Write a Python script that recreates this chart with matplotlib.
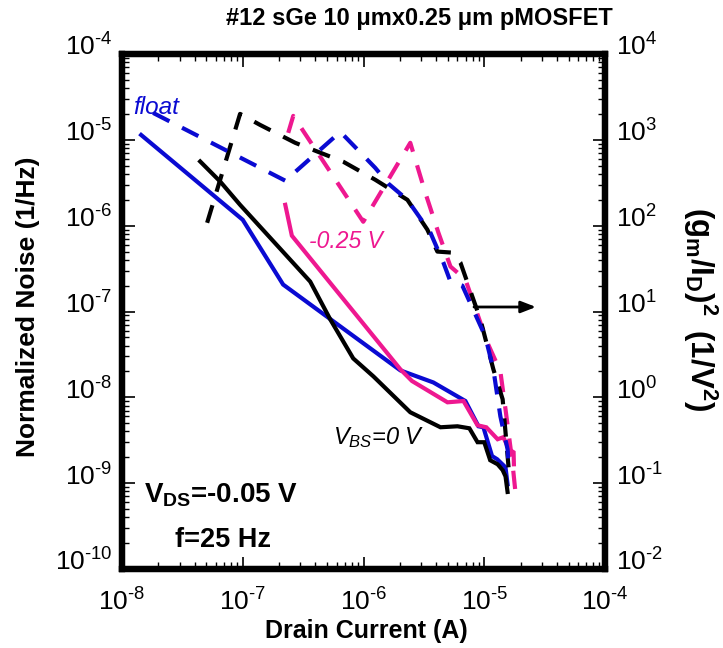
import numpy as np
import matplotlib
matplotlib.use("Agg")
import matplotlib.pyplot as plt
import matplotlib.transforms as mtransforms
from matplotlib.ticker import FixedLocator, FuncFormatter, NullFormatter

plt.rcParams['font.family'] = ['Liberation Sans', 'DejaVu Sans']
plt.rcParams['mathtext.fontset'] = 'custom'
plt.rcParams['mathtext.rm'] = 'Liberation Sans'
plt.rcParams['mathtext.it'] = 'Liberation Sans:italic'
plt.rcParams['mathtext.bf'] = 'Liberation Sans:bold'

BLUE = '#0a0ad2'
PINK = '#ee1890'

# ---- Noise (left axis), solid lines ----
id_float = [1.44e-8, 1.0e-7, 2.16e-7, 2.02e-6, 3.79e-6, 6.98e-6, 8.96e-6, 9.84e-6, 1.16e-5, 1.28e-5, 1.50e-5, 1.56e-5]
sn_float = [1.14e-5, 1.17e-6, 2.06e-7, 2.06e-8, 1.49e-8, 9.06e-9, 4.6e-9, 4.48e-9, 2.07e-9, 1.9e-9, 1.53e-9, 9.7e-10]

id_0 = [4.44e-8, 6.5e-8, 9.5e-8, 3.62e-7, 5.31e-7, 8.22e-7, 1.21e-6, 2.44e-6, 4.34e-6, 6.0e-6, 7.53e-6, 8.8e-6, 1.0e-5, 1.12e-5, 1.29e-5, 1.42e-5, 1.50e-5, 1.56e-5]
sn_0 = [5.6e-6, 3.27e-6, 1.75e-6, 2.23e-7, 8.07e-8, 2.84e-8, 1.75e-8, 6.7e-9, 4.48e-9, 4.6e-9, 4.36e-9, 3.0e-9, 3.0e-9, 1.85e-9, 1.66e-9, 1.42e-9, 1.2e-9, 7.9e-10]

id_m025 = [2.25e-7, 2.55e-7, 2.02e-6, 2.52e-6, 4.96e-6, 6.73e-6, 8.8e-6, 1.04e-5, 1.29e-5, 1.44e-5, 1.60e-5, 1.75e-5, 1.76e-5]
sn_m025 = [1.75e-6, 7.65e-7, 2.12e-8, 1.55e-8, 8.75e-9, 9.06e-9, 4.72e-9, 4.48e-9, 3.25e-9, 3.43e-9, 2.48e-9, 2.29e-9, 1.66e-9]

# ---- (gm/ID)^2 (right axis), dashed lines ----
gid_float = [1.81e-8, 2.25e-7, 6.43e-7, 1.25e-6, 1.61e-6, 2.31e-6, 3.58e-6, 4.59e-6, 5.25e-6, 6.59e-6, 1.02e-5, 1.19e-5, 1.36e-5, 1.56e-5, 1.59e-5]
g_float = [2060, 334, 1239, 472, 308, 200, 83, 37.1, 22.3, 20.0, 5.12, 2.12, 0.60, 0.248, 0.158]

gid_0 = [5.07e-8, 9.5e-8, 1.39e-7, 2.72e-7, 6.81e-7, 1.25e-6, 2.31e-6, 3.38e-6, 4.09e-6, 5.44e-6, 6.35e-6, 9.29e-6, 1.19e-5, 1.42e-5, 1.59e-5]
g_0 = [108, 2006, 1494, 923, 555, 343, 200, 89.8, 49.9, 48.5, 37.1, 8.07, 2.12, 0.95, 0.153]

gid_m025 = [2.38e-7, 2.62e-7, 9.95e-7, 2.44e-6, 3.25e-6, 4.17e-6, 5.25e-6, 6.98e-6, 1.06e-5, 1.36e-5, 1.50e-5, 1.71e-5, 1.82e-5]
g_m025 = [1206, 1901, 111, 923, 242, 83, 33.4, 23.6, 4.36, 2.0, 0.725, 0.175, 0.0745]

# axis decades
x_dec = [-8, -4]
y_dec = [-10, -4]
y2_dec = [-2, 4]

W, H = 723, 648
fig = plt.figure(figsize=(W / 100, H / 100), dpi=100)
L, R, T, B = 122, 605, 54, 569
ax = fig.add_axes([L / W, 1 - B / H, (R - L) / W, (B - T) / H])
ax2 = ax.twinx()

lw = 3.0
dash = (0, (4.4, 3.4))
ax.plot(id_float, sn_float, color=BLUE, lw=lw, solid_joinstyle='miter')
ax.plot(id_m025, sn_m025, color=PINK, lw=lw, solid_joinstyle='miter')
ax.plot(id_0, sn_0, color='black', lw=lw, solid_joinstyle='miter')

ax2.plot(gid_m025, g_m025, color=PINK, lw=lw, linestyle=dash)
ax2.plot(gid_0, g_0, color='black', lw=lw, linestyle=dash)
ax2.plot(gid_float, g_float, color=BLUE, lw=lw, linestyle=dash)

for a in (ax, ax2):
    a.set_xscale('log')
    a.set_yscale('log')
ax.set_xlim(10.0 ** x_dec[0], 10.0 ** x_dec[1])
ax.set_ylim(10.0 ** y_dec[0], 10.0 ** y_dec[1])
ax2.set_ylim(10.0 ** y2_dec[0], 10.0 ** y2_dec[1])


def sci(v, pos):
    n = int(round(np.log10(v)))
    if n < 0:
        return r'$10^{\text{-}%d}$' % (-n)
    return r'$10^{%d}$' % n


def majors(d):
    return [10.0 ** k for k in range(d[0], d[1] + 1)]


def minors(d):
    return [m * 10.0 ** k for k in range(d[0], d[1]) for m in range(2, 10)]


fmt = FuncFormatter(sci)
tfs = 19
for a in (ax, ax2):
    for s in a.spines.values():
        s.set_linewidth(4.5)
for axis, d in ((ax.xaxis, x_dec), (ax.yaxis, y_dec), (ax2.yaxis, y2_dec)):
    axis.set_major_locator(FixedLocator(majors(d)))
    axis.set_minor_locator(FixedLocator(minors(d)))
    axis.set_minor_formatter(NullFormatter())
    axis.set_major_formatter(fmt)

ax.tick_params(axis='x', which='both', direction='in', top=True, bottom=True)
ax.tick_params(axis='y', which='both', direction='in', left=True, right=False)
ax2.tick_params(axis='y', which='both', direction='in', right=True, left=False)
ax.tick_params(which='major', length=9, width=1.2, labelsize=tfs)
ax.tick_params(which='minor', length=5, width=1.0)
ax2.tick_params(which='major', length=9, width=1.2, labelsize=tfs)
ax2.tick_params(which='minor', length=5, width=1.0)
ax.tick_params(axis='x', pad=14)
ax.tick_params(axis='y', pad=7)
ax2.tick_params(axis='y', pad=8)

fig.text(366 / W, 1 - 631 / H, 'Drain Current (A)', fontsize=18, fontweight='bold',
         ha='center', va='center')
fig.text(28 / W, 1 - 307 / H, 'Normalized Noise (1/Hz)', fontsize=19, fontweight='bold',
         ha='center', va='center', rotation=90)
fig.text(700 / W, 1 - 309 / H, r'$\mathbf{(g_m/I_D)^2\;\;(1/V^2)}$', fontsize=22.5,
         ha='center', va='center', rotation=270)

fig.text(419 / W, 1 - 19 / H, '#12 sGe 10 \u03bcmx0.25 \u03bcm pMOSFET',
         fontsize=17, fontweight='bold', ha='center', va='center')


def px(xp, yp):
    return (xp - L) / (R - L), (B - yp) / (B - T)


ax.text(*px(133, 107), 'float', transform=ax.transAxes, color=BLUE, fontsize=17.5,
        fontstyle='italic', ha='left', va='center')
ax.text(*px(309, 241), '-0.25 V', transform=ax.transAxes, color=PINK, fontsize=16.5,
        fontstyle='italic', ha='left', va='center')
ax.text(*px(333, 438), r'$\mathit{V_{BS}}$=0 V', transform=ax.transAxes, color='black',
        fontsize=17, fontstyle='italic', ha='left', va='center')
ax.text(*px(144, 495), r'$\mathbf{V_{DS}}$=-0.05 V', transform=ax.transAxes,
        color='black', fontsize=20, fontweight='bold', ha='left', va='center')
ax.text(*px(175, 540), 'f=25 Hz', transform=ax.transAxes, color='black', fontsize=19.5,
        fontweight='bold', ha='left', va='center')

ax.annotate('', xy=px(536, 307), xytext=px(474, 307), xycoords='axes fraction',
            textcoords='axes fraction',
            arrowprops=dict(arrowstyle='-|>,head_length=0.9,head_width=0.35', color='black',
                            lw=2.0, shrinkA=0, shrinkB=0))

fig.canvas.draw()
up = mtransforms.ScaledTranslation(0, 6.5 / 72, fig.dpi_scale_trans)
for lab in ax.yaxis.get_majorticklabels() + ax2.yaxis.get_majorticklabels():
    lab.set_transform(lab.get_transform() + up)

fig.savefig('out.png', dpi=100)
